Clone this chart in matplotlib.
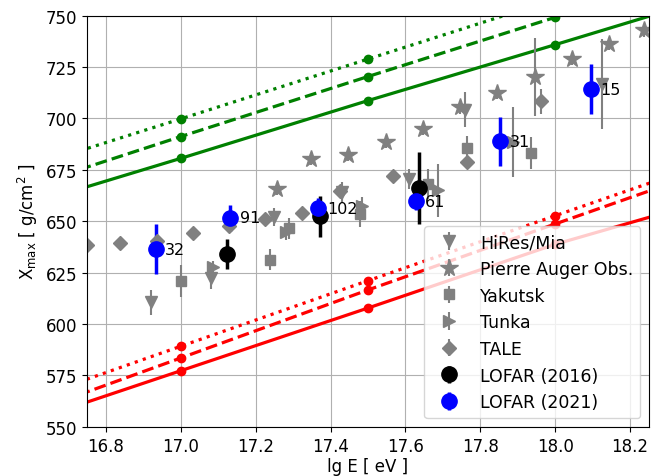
import numpy as np
import matplotlib
matplotlib.use("Agg")
import matplotlib.pyplot as plt

# ── simulated Xmax lines (proton = red, iron = green) ────────────────────────
SIM_LGE = [16.5, 17.0, 17.5, 18.0, 18.5]
P_SOLID  = [546.8, 577.3, 607.8, 638.8, 665.0]
P_DASHED = [550.5, 583.5, 616.6, 648.7, 680.7]
P_DOTTED = [557.2, 589.2, 621.1, 652.7, 684.2]
FE_SOLID  = [653.0, 680.6, 708.7, 735.9, 763.5]
FE_DASHED = [661.5, 691.2, 720.4, 749.2, 779.0]
FE_DOTTED = [671.0, 699.8, 728.9, 758.0, 787.0]

# ── other experiments ────────────────────────────────────────────────────────
HIRES_E   = [16.92, 17.08, 17.25, 17.43, 17.61, 17.76, 18.125]
HIRES_X   = [610.6, 622.3, 652.0, 664.0, 670.5, 704.3, 716.8]
HIRES_ERR = [6.0, 5.0, 4.5, 5.0, 5.0, 8.5, 22.0]

AUGER_E   = [17.256, 17.348, 17.447, 17.549, 17.647, 17.745, 17.844, 17.945, 18.045, 18.145, 18.238]
AUGER_X   = [665.7, 680.3, 682.4, 688.6, 694.9, 705.4, 712.4, 720.0, 728.9, 736.2, 742.8]
AUGER_ERR = [3.0, 3.0, 3.0, 3.0, 3.0, 3.0, 3.0, 19.0, 3.0, 3.0, 3.0]

YAK_E   = [17.0, 17.238, 17.29, 17.478, 17.66, 17.765, 17.936]
YAK_X   = [621.1, 631.3, 646.6, 653.6, 668.1, 685.5, 683.1]
YAK_ERR = [7.7, 5.0, 5.0, 6.5, 7.3, 6.0, 7.7]

TUNKA_E   = [17.087, 17.28, 17.483, 17.687, 17.887]
TUNKA_X   = [627.6, 644.7, 657.6, 665.0, 688.5]
TUNKA_ERR = [3.0, 4.0, 4.0, 12.7, 17.0]

TALE_E   = [16.749, 16.837, 16.936, 17.032, 17.129, 17.225, 17.323, 17.425, 17.567, 17.764, 17.963]
TALE_X   = [638.5, 639.4, 640.6, 644.2, 647.9, 651.1, 654.0, 664.5, 672.2, 679.0, 708.3]
TALE_ERR = [1.0, 1.0, 1.0, 1.0, 1.0, 1.0, 1.0, 1.0, 1.0, 1.0, 6.0]

# ── LOFAR ────────────────────────────────────────────────────────────────────
LOFAR16_E   = [17.124, 17.373, 17.636]
LOFAR16_X   = [634.1, 652.4, 666.2]
LOFAR16_ERR = [7.3, 10.0, 17.5]

LOFAR21_E   = [16.933, 17.132, 17.367, 17.627, 17.853, 18.096]
LOFAR21_X   = [636.5, 651.6, 656.3, 659.7, 688.9, 714.3]
LOFAR21_ERR = [12.0, 6.5, 5.0, 4.0, 11.8, 12.0]
LOFAR21_N   = ["32", "91", "102", "61", "31", "15"]

plt.rcParams["font.size"] = 12

fig = plt.figure(figsize=(6.6, 4.77), dpi=100)
ax = fig.add_axes([0.132, 0.103, 0.851, 0.862])

for vals, ls in [(P_SOLID, "-"), (P_DASHED, "--"), (P_DOTTED, ":")]:
    ax.plot(SIM_LGE, vals, ls, color="red", marker="o", ms=6, lw=2.3)
for vals, ls in [(FE_SOLID, "-"), (FE_DASHED, "--"), (FE_DOTTED, ":")]:
    ax.plot(SIM_LGE, vals, ls, color="green", marker="o", ms=6, lw=2.3)

gkw = dict(ls="none", color="gray", ecolor="gray", elinewidth=1.5)
ax.errorbar(HIRES_E, HIRES_X, yerr=HIRES_ERR, marker="v", ms=8, label="HiRes/Mia", **gkw)
ax.errorbar(AUGER_E, AUGER_X, yerr=AUGER_ERR, marker="*", ms=13, label="Pierre Auger Obs.", **gkw)
ax.errorbar(YAK_E, YAK_X, yerr=YAK_ERR, marker="s", ms=7, label="Yakutsk", **gkw)
ax.errorbar(TUNKA_E, TUNKA_X, yerr=TUNKA_ERR, marker=">", ms=8, label="Tunka", **gkw)
ax.errorbar(TALE_E, TALE_X, yerr=TALE_ERR, marker="D", ms=7, label="TALE", **gkw)

ax.errorbar(LOFAR16_E, LOFAR16_X, yerr=LOFAR16_ERR, ls="none", marker="o", ms=11,
            color="black", elinewidth=2.5, label="LOFAR (2016)")
ax.errorbar(LOFAR21_E, LOFAR21_X, yerr=LOFAR21_ERR, ls="none", marker="o", ms=11,
            color="blue", elinewidth=2.5, label="LOFAR (2021)")
for e, x, n in zip(LOFAR21_E, LOFAR21_X, LOFAR21_N):
    ax.text(e + 0.025, x, n, va="center", ha="left", fontsize=11.5)

ax.set_xlim(16.75, 18.25)
ax.set_ylim(550, 750)
ax.set_xticks(np.arange(16.8, 18.21, 0.2))
ax.set_yticks(np.arange(550, 751, 25))
ax.grid(True)
ax.set_axisbelow(True)
ax.set_xlabel("lg E [ eV ]", labelpad=2)
ax.set_ylabel(r"X$_{\rm max}$ [ g/cm$^2$ ]")
ax.legend(loc="lower right", fontsize=12.5)

fig.savefig("out.png", dpi=100)
